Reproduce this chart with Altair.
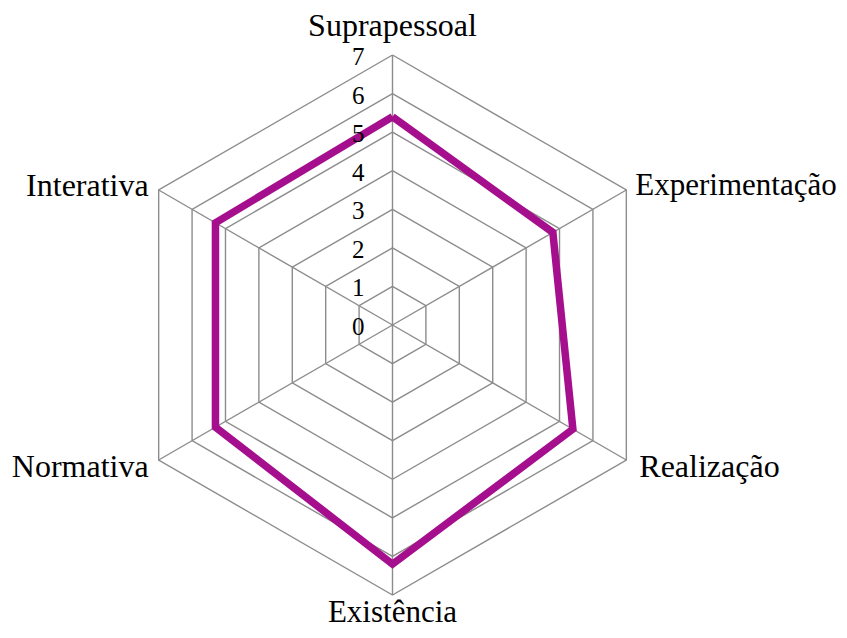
import altair as alt
import pandas as pd

# ---- data ----
categories = ["Suprapessoal", "Experimentação", "Realização", "Existência", "Normativa", "Interativa"]
values = [5.4, 4.8, 5.4, 6.2, 5.3, 5.3]
tick_levels = [0, 1, 2, 3, 4, 5, 6, 7]
tick_labels = ["0", "1", "2", "3", "4", "5", "6", "7"]
max_level = 7

# ---- layout helpers (scale domains so that center/radius match the reference) ----
W, H = 831, 622
CX, CY = 384.5, 317.0        # center in plot coordinates
UNIT = 270.0 / 7.0           # pixels per unit
XDOM = [-CX / UNIT, (W - CX) / UNIT]
YDOM = [(CY - H) / UNIT, CY / UNIT]

n = len(categories)

series_df = pd.DataFrame({
    "order": list(range(n + 1)),
    "k": [i % n for i in range(n + 1)],
    "category": [categories[i % n] for i in range(n + 1)],
    "value": [values[i % n] for i in range(n + 1)],
})

ring_rows = []
for lvl in tick_levels[1:]:
    for k in range(n + 1):
        ring_rows.append({"level": lvl, "k": k % n, "order": k})
ring_df = pd.DataFrame(ring_rows)

spoke_df = pd.DataFrame({"k": list(range(n)), "level": [max_level] * n})
label_df = pd.DataFrame({"k": list(range(n)), "category": categories, "level": [max_level] * n})
tick_df = pd.DataFrame({"level": tick_levels, "label": tick_labels})

xs = alt.Scale(domain=XDOM, nice=False, zero=False)
ys = alt.Scale(domain=YDOM, nice=False, zero=False)

GRID = "#8c8c8c"
FONT = "Liberation Serif"

rings = alt.Chart(ring_df).transform_calculate(
    px="datum.level * sin(datum.k * PI / 3)",
    py="datum.level * cos(datum.k * PI / 3)",
).mark_line(color=GRID, strokeWidth=1.4, strokeJoin="miter").encode(
    x=alt.X("px:Q", scale=xs, axis=None),
    y=alt.Y("py:Q", scale=ys, axis=None),
    detail="level:N",
    order="order:Q",
)

spokes = alt.Chart(spoke_df).transform_calculate(
    px="datum.level * sin(datum.k * PI / 3)",
    py="datum.level * cos(datum.k * PI / 3)",
    zx="0",
    zy="0",
).mark_rule(color=GRID, strokeWidth=1.4).encode(
    x=alt.X("zx:Q", scale=xs, axis=None),
    y=alt.Y("zy:Q", scale=ys, axis=None),
    x2="px:Q",
    y2="py:Q",
)

series = alt.Chart(series_df).transform_calculate(
    px="datum.value * sin(datum.k * PI / 3)",
    py="datum.value * cos(datum.k * PI / 3)",
).mark_line(color="#A50E8C", strokeWidth=7.5, strokeJoin="miter").encode(
    x=alt.X("px:Q", scale=xs, axis=None),
    y=alt.Y("py:Q", scale=ys, axis=None),
    order="order:Q",
)


def label_layer(k, align, dx, dy, size=32):
    return alt.Chart(label_df).transform_filter(
        f"datum.k == {k}"
    ).transform_calculate(
        px="datum.level * sin(datum.k * PI / 3)",
        py="datum.level * cos(datum.k * PI / 3)",
    ).mark_text(
        font=FONT, fontSize=size, color="black", align=align,
        baseline="alphabetic", dx=dx, dy=dy,
    ).encode(
        x=alt.X("px:Q", scale=xs, axis=None),
        y=alt.Y("py:Q", scale=ys, axis=None),
        text="category:N",
    )


labels = [
    label_layer(0, "center", 0, -19),
    label_layer(1, "left", 9, 5, 31),
    label_layer(2, "left", 13, 17),
    label_layer(3, "center", 0, 27, 31),
    label_layer(4, "right", -10, 17),
    label_layer(5, "right", -10, 6),
]

ticks = alt.Chart(tick_df).transform_calculate(
    zx="0",
).mark_text(
    font=FONT, fontSize=25, color="black", align="right", baseline="middle", dx=-28, dy=2,
).encode(
    x=alt.X("zx:Q", scale=xs, axis=None),
    y=alt.Y("level:Q", scale=ys, axis=None),
    text="label:N",
)

chart = alt.layer(rings, spokes, series, *labels, ticks).properties(
    width=W, height=H, padding=0,
    autosize=alt.AutoSizeParams(type="none"),
    background="white",
).configure_view(stroke=None)

chart.save("out.html", embed_options={"renderer": "svg", "actions": False})
